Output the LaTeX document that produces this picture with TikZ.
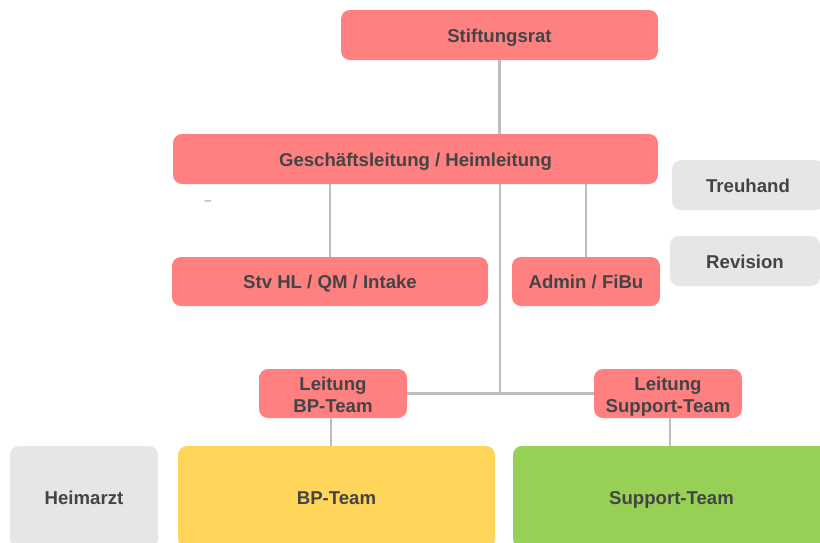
\documentclass[tikz,border=0pt]{standalone}
\usepackage{fontspec}
\setmainfont{Liberation Sans}
\definecolor{redbox}{RGB}{255,128,128}
\definecolor{graybox}{RGB}{230,230,230}
\definecolor{yellowbox}{RGB}{255,214,90}
\definecolor{greenbox}{RGB}{150,208,84}
\definecolor{txt}{RGB}{68,68,68}
\definecolor{ln}{RGB}{190,190,190}
\tikzset{
  box/.style={rounded corners=9pt, inner sep=0pt, align=center, text=txt,
    font=\fontsize{18.6}{22}\selectfont\bfseries, text height=14.8pt, text depth=0pt},
  twoline/.style={text height=38.4pt, text depth=0pt},
  rbox/.style={box, fill=redbox},
  gbox/.style={box, fill=graybox},
  conn/.style={draw=ln, line width=2.5pt}
}
\begin{document}
\begin{tikzpicture}[x=1pt,y=-1pt]
\useasboundingbox (0,0) rectangle (820,542);
\clip (0,0) rectangle (820,542);
\node[rbox, minimum width=317pt, minimum height=50pt] (stift) at (499.5,35) {Stiftungsrat};
\node[rbox, minimum width=485pt, minimum height=50pt] (gl) at (415.5,159) {Geschäftsleitung / Heimleitung};
\node[gbox, minimum width=152pt, minimum height=50pt] (treu) at (748,185) {Treuhand};
\node[gbox, minimum width=150pt, minimum height=50pt] (rev) at (745,261) {Revision};
\node[rbox, minimum width=316pt, minimum height=49pt] (stv) at (330,281.5) {Stv HL / QM / Intake};
\node[rbox, minimum width=148pt, minimum height=49pt] (admin) at (586,281.5) {Admin / FiBu};
\node[rbox, twoline, minimum width=148pt, minimum height=49pt] (lbp) at (333,393.5) {Leitung\\BP-Team};
\node[rbox, twoline, minimum width=148pt, minimum height=49pt] (lsup) at (668,393.5) {Leitung\\Support-Team};
\node[gbox, minimum width=148pt, minimum height=102pt] (heim) at (84,497) {Heimarzt};
\node[box, fill=yellowbox, minimum width=317pt, minimum height=102pt] (bp) at (336.5,497) {BP-Team};
\node[box, fill=greenbox, minimum width=317pt, minimum height=102pt] (sup) at (671.5,497) {Support-Team};
\node[text=gray, inner sep=0pt, font=\fontsize{12}{12}\selectfont] (dash) at (208,203) {–};
\coordinate (jn) at (500,393.5);
\draw[conn] (stift.south) -- (stift.south |- gl.north);
\draw[conn] (stv.north |- gl.south) -- (stv.north);
\draw[conn] (admin.north |- gl.south) -- (admin.north);
\draw[conn] (jn |- gl.south) -- (jn);
\draw[conn] (lbp.east) -- (lsup.west);
\draw[conn] ([xshift=-2pt]lbp.south) -- ([xshift=-2pt]lbp.south |- bp.north);
\draw[conn] ([xshift=2pt]lsup.south) -- ([xshift=2pt]lsup.south |- sup.north);
\end{tikzpicture}
\end{document}
